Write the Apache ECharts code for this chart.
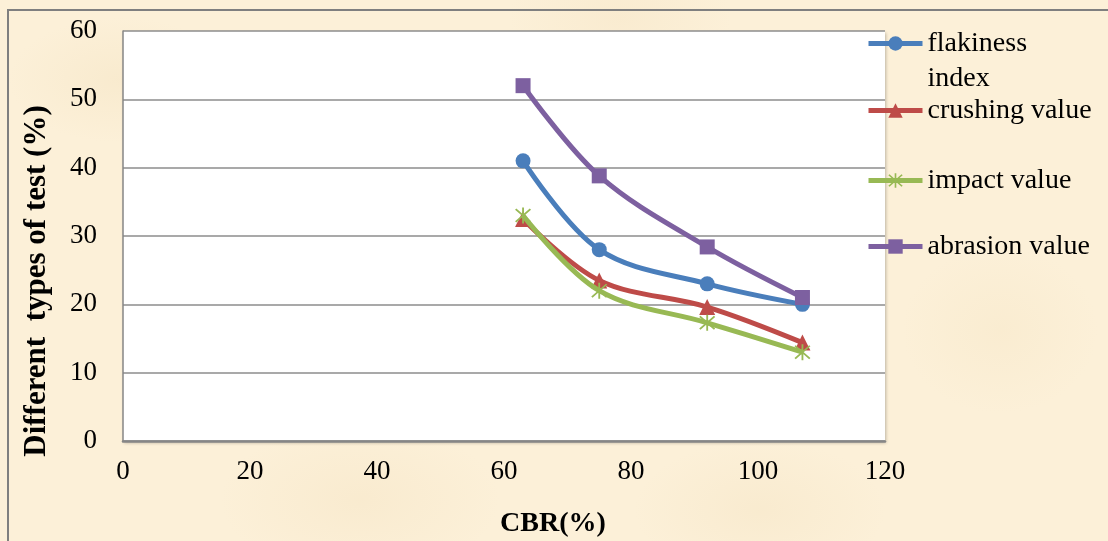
<!DOCTYPE html>
<html>
<head>
<meta charset="utf-8">
<script src="https://cdn.jsdelivr.net/npm/echarts@6/dist/echarts.min.js"></script>
<style>
  html, body { margin: 0; padding: 0; }
  body {
    width: 1108px; height: 541px; overflow: hidden; position: relative;
    background-color: #fcf0d8;
    background-image:
      radial-gradient(ellipse 160px 90px at 120px 80px, rgba(236,214,172,0.22), rgba(236,214,172,0) 70%),
      radial-gradient(ellipse 200px 110px at 360px 500px, rgba(238,216,176,0.22), rgba(238,216,176,0) 70%),
      radial-gradient(ellipse 180px 100px at 760px 510px, rgba(236,214,172,0.2), rgba(236,214,172,0) 70%),
      radial-gradient(ellipse 140px 120px at 1000px 330px, rgba(240,220,180,0.2), rgba(240,220,180,0) 70%),
      radial-gradient(ellipse 160px 90px at 620px 18px, rgba(238,216,176,0.2), rgba(238,216,176,0) 70%);
  }
  #frame {
    position: absolute; left: 7px; top: 9px; width: 1200px; height: 700px;
    border-left: 2px solid #7f7f7f; border-top: 2px solid #7f7f7f;
  }
  #chart { position: absolute; left: 0; top: 0; width: 1108px; height: 541px; }
</style>
</head>
<body>
<div id="frame"></div>
<div id="chart"></div>
<script>
// CBR (%) values shared by all four test series
const cbr = [63, 75, 92, 107];

// Aggregate test results (%) at each CBR
const flakinessIndex = [41, 28, 23, 20];
const crushingValue  = [32.5, 23.5, 19.6, 14.4];
const impactValue    = [33, 22, 17.3, 13];
const abrasionValue  = [52, 38.8, 28.4, 21];

const seriesNames = ['flakiness index', 'crushing value', 'impact value', 'abrasion value'];
const xTicks = [0, 20, 40, 60, 80, 100, 120];
const yTicks = [0, 10, 20, 30, 40, 50, 60];

const FONT = '"Liberation Serif", "Times New Roman", serif';
const colors = ['#4a7ebb', '#be4b48', '#98b954', '#7d60a0'];

// six-armed asterisk marker
const asterisk = 'path://M9 0L11 0L11 20L9 20Z' +
  'M1.3 2.7L2.7 1.3L18.7 17.3L17.3 18.7Z' +
  'M17.3 1.3L18.7 2.7L2.7 18.7L1.3 17.3Z';

const pairs = arr => cbr.map((x, i) => [x, arr[i]]);
const values = [flakinessIndex, crushingValue, impactValue, abrasionValue];
const symbols = ['circle', 'triangle', asterisk, 'rect'];
const symbolSizes = [15, 16, 16, 15];

const series = values.map((v, i) => ({
  name: seriesNames[i],
  type: 'line',
  data: pairs(v),
  smooth: 0.35,
  symbol: symbols[i],
  symbolSize: symbolSizes[i],
  showSymbol: true,
  lineStyle: { color: colors[i], width: 5 },
  itemStyle: { color: colors[i] },
  emphasis: { disabled: true },
  z: 2 + i
}));

// one legend block per series so each entry sits at its own height;
// the wrapped first entry gets a blank leading line so its marker lines up with "flakiness"
const legendTops = [-9, 93, 163, 229];
const legends = seriesNames.map((name, i) => ({
  data: [name],
  left: 866,
  top: legendTops[i],
  orient: 'vertical',
  padding: 0,
  itemWidth: 54,
  itemHeight: 18,
  itemGap: 0,
  selectedMode: false,
  lineStyle: { width: 5 },
  formatter: n => n === 'flakiness index' ? '\nflakiness\nindex' : n,
  textStyle: { fontFamily: FONT, fontSize: 28, color: '#000', lineHeight: 35 }
}));

const chart = echarts.init(document.getElementById('chart'), null, { renderer: 'canvas' });
chart.setOption({
  animation: false,
  backgroundColor: 'transparent',
  color: colors,
  grid: {
    left: 123, right: 223, top: 31, bottom: 100,
    show: true, backgroundColor: '#ffffff', borderWidth: 0,
    shadowColor: 'rgba(0,0,0,0.25)', shadowBlur: 3, shadowOffsetX: 1, shadowOffsetY: 2
  },
  legend: legends,
  xAxis: {
    type: 'value', min: xTicks[0], max: xTicks[xTicks.length - 1], interval: 20,
    axisLine: { show: true, lineStyle: { color: '#868686', width: 2.5 } },
    axisTick: { show: false },
    splitLine: { show: false },
    axisLabel: { fontFamily: FONT, fontSize: 27, color: '#000', margin: 17 }
  },
  yAxis: {
    type: 'value', min: yTicks[0], max: yTicks[yTicks.length - 1], interval: 10,
    axisLine: { show: true, lineStyle: { color: '#868686', width: 1.5 } },
    axisTick: { show: false },
    splitLine: { show: true, lineStyle: { color: '#8c8c8c', width: 1.5 } },
    axisLabel: { fontFamily: FONT, fontSize: 27, color: '#000', margin: 26 }
  },
  graphic: [
    {
      type: 'text', x: 553, y: 524,
      style: { text: 'CBR(%)', fontFamily: FONT, fontSize: 28, fontWeight: 'bold',
               fill: '#000', align: 'center', verticalAlign: 'middle' }
    },
    {
      type: 'text', x: 37, y: 281, rotation: Math.PI / 2,
      style: { text: 'Different  types of test (%)', fontFamily: FONT, fontSize: 31, fontWeight: 'bold',
               fill: '#000', align: 'center', verticalAlign: 'middle' }
    }
  ],
  series: series
});
</script>
</body>
</html>
